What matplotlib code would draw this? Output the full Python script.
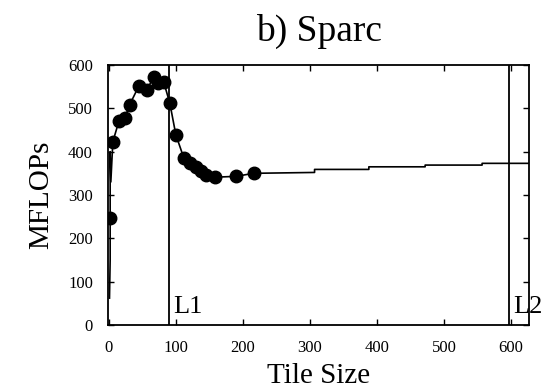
import matplotlib
matplotlib.use("Agg")
import matplotlib.pyplot as plt

# measured points (markers)
pt_x = [2, 6, 15, 24, 31, 45, 57, 67, 74, 82, 91, 100, 112, 121, 130, 137, 145, 158, 190, 216]
pt_y = [247, 423, 470, 478, 508, 552, 543, 573, 558, 560, 512, 439, 385, 374, 365, 356, 346, 341, 343, 350]

# full curve over all tile sizes
line_x = [1, 2, 2, 3, 6, 15, 24, 31, 45, 57, 67, 74, 82, 91, 100, 112, 121, 130, 137, 145, 158,
          190, 216, 307, 307, 388, 388, 472, 472, 557, 557, 627]
line_y = [62, 150, 400, 330, 423, 470, 478, 508, 552, 543, 573, 558, 560, 512, 439, 385, 374, 365,
          356, 346, 341, 343, 350, 352, 359, 359, 365, 365, 369, 369, 373, 373]

cache_x = [90, 597]
cache_lbl = ["L1", "L2"]

plt.rcParams['font.family'] = ['Liberation Serif', 'DejaVu Serif']

fig = plt.figure(figsize=(5.49, 3.90), dpi=100)
ax = fig.add_axes([0.197, 0.1667, 0.7666, 0.6667])

ax.plot(line_x, line_y, color='black', lw=1.2)
ax.plot(pt_x, pt_y, 'o', color='black', ms=9)

for cx, lbl in zip(cache_x, cache_lbl):
    ax.axvline(cx, color='black', lw=1.3)
    ax.text(cx + 6, 28, lbl, fontsize=19, ha='left', va='baseline')

ax.set_xlim(-1, 627)
ax.set_ylim(0, 600)
ax.set_xticks(range(0, 700, 100))
ax.set_yticks(range(0, 700, 100))
ax.tick_params(direction='in', top=True, right=True, length=4, width=1, labelsize=12)
ax.tick_params(axis='x', pad=11)
ax.tick_params(axis='y', pad=11)
for s in ax.spines.values():
    s.set_linewidth(1.3)

ax.set_title("b) Sparc", fontsize=27, pad=17)
ax.set_xlabel("Tile Size", fontsize=21, labelpad=5)
ax.set_ylabel("MFLOPs", fontsize=21, labelpad=10)

fig.savefig("out.png", dpi=100)
